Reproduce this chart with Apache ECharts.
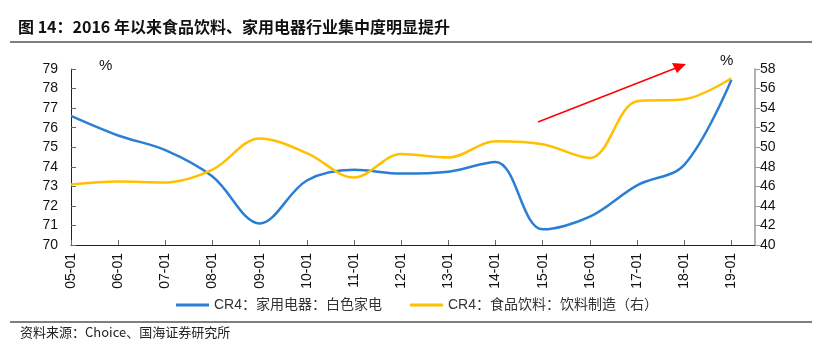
<!DOCTYPE html>
<html>
<head>
<meta charset="utf-8">
<script src="https://cdn.jsdelivr.net/npm/echarts@6/dist/echarts.min.js"></script>
<style>
  html, body { margin: 0; padding: 0; background: #fff; }
  #chart { width: 834px; height: 351px; }
</style>
</head>
<body>
<div id="chart"></div>
<script>
// 年份标签（每年1月）
var categories = ['05-01', '06-01', '07-01', '08-01', '09-01', '10-01', '11-01', '12-01',
  '13-01', '14-01', '15-01', '16-01', '17-01', '18-01', '19-01']
// CR4：家用电器：白色家电（左轴）
var applianceCR4 = [76.6, 75.6, 74.85, 73.5, 71.1, 73.3, 73.85, 73.65, 73.75, 74.25, 70.8, 71.45, 73.05, 74.1, 78.45]
// CR4：食品饮料：饮料制造（右轴）
var beverageCR4 = [46.2, 46.5, 46.4, 47.7, 50.9, 49.4, 46.9, 49.3, 48.95, 50.6, 50.3, 48.9, 54.7, 54.9, 57.05]

var leftName = 'CR4：家用电器：白色家电'
var rightName = 'CR4：食品饮料：饮料制造（右）'

function toPoints (arr) {
  return arr.map(function (v, i) { return [i, v] })
}

var myChart = echarts.init(document.getElementById('chart'))
var font = '"Liberation Sans", Arial, "Noto Sans CJK SC", sans-serif'
var option = {
  backgroundColor: '#fff',
  animation: false,
  textStyle: { fontFamily: font },
  grid: { left: 71, right: 79, top: 69, bottom: 106 },
  legend: {
    bottom: 34,
    left: 'center',
    itemWidth: 33,
    itemHeight: 3,
    itemGap: 28,
    icon: 'rect',
    textStyle: { fontSize: 14, color: '#333', fontFamily: font },
    data: [leftName, rightName]
  },
  xAxis: {
    type: 'value',
    min: 0,
    max: 14.5,
    interval: 1,
    splitLine: { show: false },
    axisLine: { lineStyle: { color: '#222', width: 1 } },
    axisTick: { inside: true, length: 5, lineStyle: { color: '#666' } },
    axisLabel: {
      rotate: 90,
      fontSize: 14,
      color: '#111',
      margin: 8,
      showMaxLabel: false,
      formatter: function (v) { return categories[v] || '' }
    }
  },
  yAxis: [
    {
      type: 'value',
      min: 70,
      max: 79,
      interval: 1,
      splitLine: { show: false },
      axisLine: { show: true, lineStyle: { color: '#222' } },
      axisTick: { show: true, inside: true, length: 5, lineStyle: { color: '#666' } },
      axisLabel: { fontSize: 14, color: '#111', margin: 13 }
    },
    {
      type: 'value',
      min: 40,
      max: 58,
      interval: 2,
      position: 'right',
      splitLine: { show: false },
      axisLine: { show: true, lineStyle: { color: '#999', width: 1.5 } },
      axisTick: { show: true, length: 5, lineStyle: { color: '#999' } },
      axisLabel: { fontSize: 14, color: '#111', margin: 5 }
    }
  ],
  graphic: [
    { type: 'text', left: 18, top: 19, style: { text: '图 14：2016 年以来食品饮料、家用电器行业集中度明显提升', font: 'bold 16px "Noto Sans CJK SC", sans-serif', fill: '#111' } },
    { type: 'line', shape: { x1: 10, y1: 42, x2: 812, y2: 42 }, style: { stroke: '#555', lineWidth: 1.5 } },
    { type: 'text', left: 99, top: 58, style: { text: '%', font: '15px "Liberation Sans", Arial', fill: '#111' } },
    { type: 'text', left: 720, top: 53, style: { text: '%', font: '15px "Liberation Sans", Arial', fill: '#111' } },
    { type: 'line', shape: { x1: 538, y1: 122, x2: 676, y2: 68 }, style: { stroke: '#ff0000', lineWidth: 1.5 } },
    { type: 'polygon', shape: { points: [[686, 64], [672, 63], [677, 73]] }, style: { fill: '#ff0000' } },
    { type: 'line', shape: { x1: 10, y1: 322, x2: 812, y2: 322 }, style: { stroke: '#555', lineWidth: 1.5 } },
    { type: 'text', left: 20, top: 326, style: { text: '资料来源：Choice、国海证券研究所', font: '13px "Noto Sans CJK SC", sans-serif', fill: '#222' } }
  ],
  series: [
    {
      name: leftName,
      type: 'line',
      yAxisIndex: 0,
      smooth: 0.35,
      symbol: 'none',
      lineStyle: { width: 2.5, color: '#2a7fd4' },
      itemStyle: { color: '#2a7fd4' },
      data: toPoints(applianceCR4)
    },
    {
      name: rightName,
      type: 'line',
      yAxisIndex: 1,
      smooth: 0.35,
      symbol: 'none',
      lineStyle: { width: 2.5, color: '#ffc000' },
      itemStyle: { color: '#ffc000' },
      data: toPoints(beverageCR4)
    }
  ]
}
myChart.setOption(option)
</script>
</body>
</html>
